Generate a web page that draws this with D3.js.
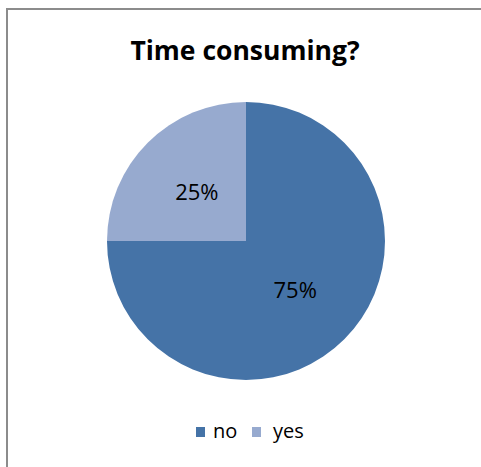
<!DOCTYPE html>
<html><head><meta charset="utf-8">
<script src="https://cdn.jsdelivr.net/npm/d3@7"></script>
<style>body{margin:0;background:#fff}svg{display:block}</style>
</head><body>
<script>
const categories = ["no", "yes"];
const values = [75, 25];
const colors = ["#4573A7", "#97AACF"];
const title = "Time consuming?";

const W = 481, H = 467;
const svg = d3.select("body").append("svg").attr("width", W).attr("height", H);
svg.append("rect").attr("x", 7).attr("y", 9).attr("width", 490).attr("height", 480)
  .attr("fill", "#fff").attr("stroke", "#8c8c8c").attr("stroke-width", 2);

svg.append("text").attr("x", 245).attr("y", 60).attr("text-anchor", "middle")
  .attr("font-family", "'Open Sans', sans-serif").attr("font-weight", "bold")
  .attr("font-size", 26.5).attr("fill", "#000").text(title);

const cx = 246, cy = 241, r = 139;
const pie = d3.pie().sort(null).value(d => d)(values);
const arc = d3.arc().innerRadius(0).outerRadius(r);
const g = svg.append("g").attr("transform", `translate(${cx},${cy})`);
g.selectAll("path").data(pie).join("path").attr("d", arc)
  .attr("fill", (d, i) => colors[i]);
const total = d3.sum(values);
const labelArc = d3.arc().innerRadius(r * 0.5).outerRadius(r * 0.5);
g.selectAll("text").data(pie).join("text")
  .attr("transform", d => `translate(${labelArc.centroid(d)})`)
  .attr("text-anchor", "middle").attr("dy", "0.36em")
  .attr("font-family", "'Open Sans', sans-serif").attr("font-size", 22).attr("fill", "#000")
  .text(d => Math.round(d.value / total * 100) + "%");

const leg = svg.append("g");
const sq = [196, 252], tx = [213, 273];
categories.forEach((c, i) => {
  leg.append("rect").attr("x", sq[i]).attr("y", 427).attr("width", 9).attr("height", 10).attr("fill", colors[i]);
  leg.append("text").attr("x", tx[i]).attr("y", 438).attr("font-family", "'Open Sans', sans-serif")
    .attr("font-size", 20).attr("fill", "#000").text(c);
});
</script>
</body></html>
